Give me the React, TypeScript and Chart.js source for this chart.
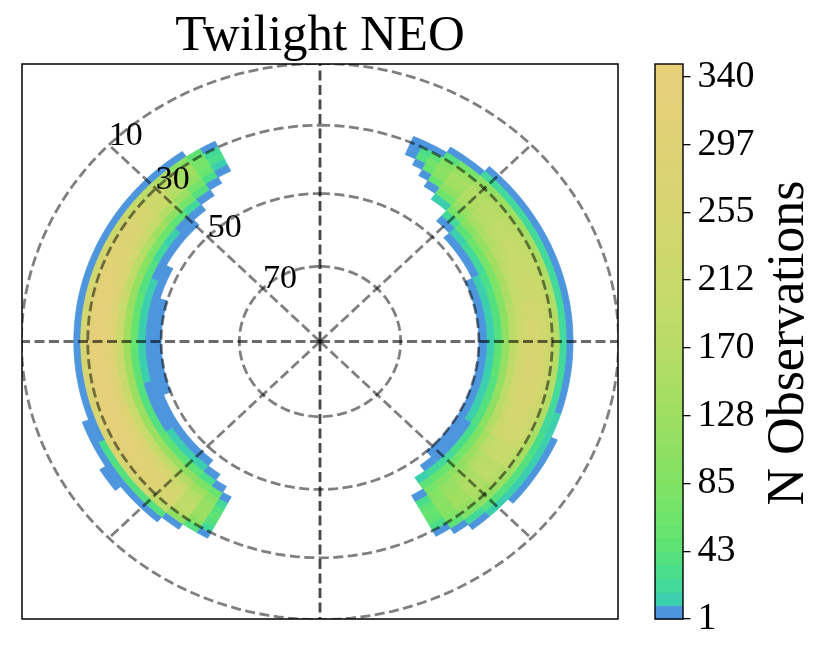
import React, { useEffect, useRef } from 'react';
import { Chart, registerables } from 'chart.js';

Chart.register(...registerables);

// sky binning: altitude bins (lower edge, deg), azimuth bin edges (deg, N = 0, E = 90)
const altBins = [22, 24, 26, 28, 30, 32, 34, 36, 38, 40, 42, 44, 46, 48];
const altStep = 2;

const eastAzEdges = [23, 26, 29, 32, 36, 42, 48, 54, 60, 66, 72, 78, 84, 90, 96, 102, 108, 114, 120, 126, 132, 138, 143, 147, 151];
const eastCounts = [
  [0, 0, 0, 4, 6, 3, 0, 0, 0, 0, 0, 0, 0, 0],
  [0, 0, 0, 5, 30, 35, 6, 0, 0, 0, 0, 0, 0, 0],
  [0, 0, 0, 8, 50, 70, 55, 5, 0, 0, 0, 0, 0, 0],
  [0, 0, 5, 40, 90, 105, 95, 55, 8, 0, 0, 0, 0, 0],
  [0, 0, 8, 70, 125, 140, 135, 110, 65, 12, 0, 0, 0, 0],
  [0, 6, 20, 105, 150, 162, 160, 145, 115, 70, 22, 5, 0, 0],
  [0, 8, 22, 120, 165, 178, 178, 165, 140, 95, 45, 12, 4, 0],
  [0, 8, 24, 130, 178, 190, 192, 180, 158, 115, 62, 20, 5, 0],
  [0, 8, 25, 140, 188, 202, 205, 195, 172, 128, 75, 26, 8, 0],
  [0, 8, 25, 148, 196, 212, 216, 208, 188, 142, 85, 32, 10, 3],
  [0, 8, 25, 155, 205, 222, 228, 220, 200, 152, 94, 36, 12, 4],
  [0, 8, 25, 160, 214, 234, 240, 232, 212, 165, 102, 40, 12, 4],
  [0, 8, 25, 165, 222, 245, 255, 248, 225, 176, 108, 42, 12, 4],
  [0, 8, 25, 168, 228, 255, 266, 260, 236, 185, 114, 44, 12, 4],
  [0, 8, 25, 168, 230, 258, 270, 264, 240, 188, 116, 44, 12, 4],
  [0, 8, 25, 166, 228, 255, 266, 262, 238, 185, 113, 42, 12, 4],
  [0, 10, 25, 160, 220, 246, 256, 250, 228, 176, 108, 40, 10, 4],
  [4, 12, 28, 150, 208, 232, 242, 236, 214, 165, 100, 37, 10, 4],
  [5, 14, 40, 140, 188, 205, 208, 200, 180, 140, 85, 30, 8, 3],
  [3, 12, 40, 125, 165, 182, 186, 178, 160, 122, 75, 27, 8, 3],
  [0, 10, 35, 105, 140, 155, 158, 150, 135, 108, 66, 25, 8, 3],
  [0, 5, 25, 85, 115, 128, 132, 126, 114, 94, 60, 22, 6, 0],
  [0, 0, 6, 50, 85, 98, 102, 98, 88, 74, 48, 12, 0, 0],
  [0, 0, 0, 5, 28, 50, 55, 46, 28, 8, 0, 0, 0, 0],
];

const westAzEdges = [208, 211, 215, 220, 226, 232, 238, 244, 250, 256, 262, 268, 274, 280, 286, 292, 298, 304, 310, 316, 321, 326, 330, 334];
const westCounts = [
  [0, 0, 0, 5, 25, 40, 45, 40, 25, 6, 0, 0, 0, 0],
  [0, 0, 0, 40, 100, 120, 125, 115, 95, 60, 8, 0, 0, 0],
  [0, 0, 8, 110, 175, 190, 185, 165, 130, 85, 30, 5, 0, 0],
  [0, 5, 40, 185, 240, 255, 245, 215, 170, 110, 45, 10, 4, 0],
  [0, 5, 40, 240, 290, 300, 290, 255, 195, 125, 50, 12, 5, 0],
  [3, 6, 40, 260, 310, 318, 305, 265, 200, 125, 45, 10, 5, 0],
  [0, 5, 30, 270, 322, 328, 315, 275, 205, 125, 40, 8, 4, 0],
  [0, 3, 8, 275, 328, 335, 320, 280, 205, 125, 40, 8, 4, 0],
  [0, 0, 5, 272, 330, 338, 325, 285, 205, 125, 40, 9, 4, 2],
  [0, 0, 5, 268, 330, 338, 328, 290, 210, 128, 45, 10, 5, 3],
  [0, 0, 5, 262, 328, 338, 330, 295, 215, 130, 50, 12, 5, 3],
  [0, 0, 5, 255, 325, 336, 330, 298, 220, 135, 55, 14, 6, 3],
  [0, 0, 5, 252, 322, 334, 328, 295, 218, 132, 52, 13, 5, 3],
  [0, 0, 5, 250, 318, 330, 322, 288, 210, 125, 48, 12, 5, 2],
  [0, 0, 5, 245, 310, 320, 310, 272, 195, 115, 42, 10, 4, 0],
  [0, 0, 6, 238, 298, 305, 292, 250, 175, 100, 35, 8, 3, 0],
  [0, 0, 6, 228, 282, 285, 270, 225, 155, 85, 25, 6, 0, 0],
  [0, 0, 6, 212, 258, 260, 242, 198, 130, 65, 15, 5, 0, 0],
  [0, 0, 5, 185, 225, 222, 205, 165, 105, 45, 8, 3, 0, 0],
  [0, 0, 5, 145, 180, 175, 158, 120, 70, 25, 5, 0, 0, 0],
  [0, 0, 4, 95, 130, 128, 110, 75, 35, 8, 0, 0, 0, 0],
  [0, 0, 0, 45, 75, 75, 60, 30, 6, 0, 0, 0, 0, 0],
  [0, 0, 0, 5, 25, 28, 12, 3, 0, 0, 0, 0, 0, 0],
];

const altRings = [10, 30, 50, 70];
const ringLabels = ['10', '30', '50', '70'];
const spokes = [0, 45, 90, 135, 180, 225, 270, 315];

const cbTicks = [1, 43.375, 85.75, 128.125, 170.5, 212.875, 255.25, 297.625, 340];
const cbLabels = ['1', '43', '85', '128', '170', '212', '255', '297', '340'];
const countMin = 1;
const countMax = 348;
const countLevels = 41;

const SERIF = "'Liberation Serif', 'Times New Roman', serif";
const LIM = 1.283;

const cmapStops: [number, number[]][] = [
  [1, [77, 150, 221]],
  [9.5, [60, 207, 174]],
  [18, [66, 217, 154]],
  [27, [74, 222, 136]],
  [43, [94, 226, 115]],
  [60, [110, 229, 106]],
  [85, [131, 226, 100]],
  [128, [160, 222, 96]],
  [170, [186, 220, 102]],
  [212, [202, 217, 107]],
  [255, [214, 213, 112]],
  [297, [223, 210, 117]],
  [348, [232, 207, 123]],
];

function lambertR(alt: number) {
  return 2 * Math.sin((((90 - alt) / 2) * Math.PI) / 180);
}

function countColor(v: number) {
  const step = (countMax - countMin) / countLevels;
  const i = Math.min(countLevels - 1, Math.max(0, Math.floor((v - countMin) / step)));
  const lv = countMin + i * step;
  let k = 0;
  while (k < cmapStops.length - 2 && lv > cmapStops[k + 1][0]) k++;
  const [v0, c0] = cmapStops[k];
  const [v1, c1] = cmapStops[k + 1];
  const t = Math.max(0, Math.min(1, (lv - v0) / (v1 - v0)));
  const c = c0.map((a, j) => Math.round(a + (c1[j] - a) * t));
  return `rgb(${c[0]},${c[1]},${c[2]})`;
}

function skyPoint(chart: any, r: number, az: number) {
  const th = ((90 - az) * Math.PI) / 180;
  return [chart.scales.x.getPixelForValue(r * Math.cos(th)), chart.scales.y.getPixelForValue(r * Math.sin(th))];
}

const skyPlugin = {
  id: 'sky',
  beforeDatasetsDraw(chart: any) {
    const { ctx, chartArea: a } = chart;
    ctx.save();
    ctx.beginPath();
    ctx.rect(a.left, a.top, a.right - a.left, a.bottom - a.top);
    ctx.clip();
    const drawSide = (edges: number[], counts: number[][]) => {
      counts.forEach((row, i) => {
        const az0 = edges[i];
        const az1 = edges[i + 1];
        const steps = Math.max(2, Math.ceil((az1 - az0) / 1.5));
        row.forEach((n, j) => {
          if (!n) return;
          const rOut = lambertR(altBins[j]);
          const rIn = lambertR(altBins[j] + altStep);
          ctx.beginPath();
          for (let s = 0; s <= steps; s++) {
            const p = skyPoint(chart, rOut, az0 + ((az1 - az0) * s) / steps);
            if (s === 0) ctx.moveTo(p[0], p[1]);
            else ctx.lineTo(p[0], p[1]);
          }
          for (let s = steps; s >= 0; s--) {
            const p = skyPoint(chart, rIn, az0 + ((az1 - az0) * s) / steps);
            ctx.lineTo(p[0], p[1]);
          }
          ctx.closePath();
          const col = countColor(n);
          ctx.fillStyle = col;
          ctx.strokeStyle = col;
          ctx.lineWidth = 0.8;
          ctx.fill();
          ctx.stroke();
        });
      });
    };
    drawSide(eastAzEdges, eastCounts);
    drawSide(westAzEdges, westCounts);
    ctx.restore();
  },
  afterDatasetsDraw(chart: any) {
    const { ctx, chartArea: a } = chart;
    ctx.save();
    ctx.beginPath();
    ctx.rect(a.left, a.top, a.right - a.left, a.bottom - a.top);
    ctx.clip();
    ctx.lineWidth = 2.8;
    ctx.setLineDash([10, 4.5]);
    altRings.forEach((alt) => {
      const r = lambertR(alt);
      ctx.beginPath();
      for (let t = 0; t <= 360; t += 2) {
        const p = skyPoint(chart, r, t);
        if (t === 0) ctx.moveTo(p[0], p[1]);
        else ctx.lineTo(p[0], p[1]);
      }
      ctx.strokeStyle = 'rgba(0,0,0,0.5)';
      ctx.stroke();
    });
    spokes.forEach((az) => {
      const p0 = skyPoint(chart, 0, az);
      const p1 = skyPoint(chart, lambertR(altRings[0]), az);
      ctx.beginPath();
      ctx.moveTo(p0[0], p0[1]);
      ctx.lineTo(p1[0], p1[1]);
      ctx.strokeStyle = az % 180 === 0 ? 'rgba(0,0,0,0.72)' : az % 90 === 0 ? 'rgba(0,0,0,0.58)' : 'rgba(0,0,0,0.5)';
      ctx.stroke();
    });
    ctx.restore();

    ctx.save();
    ctx.setLineDash([]);
    ctx.lineWidth = 1.5;
    ctx.strokeStyle = '#000';
    ctx.strokeRect(a.left, a.top, a.right - a.left, a.bottom - a.top);

    ctx.fillStyle = '#000';
    ctx.font = `34px ${SERIF}`;
    ctx.textAlign = 'left';
    ctx.textBaseline = 'alphabetic';
    altRings.forEach((alt, i) => {
      const p = skyPoint(chart, lambertR(alt), 315);
      ctx.fillText(ringLabels[i], p[0], p[1]);
    });

    ctx.font = `51px ${SERIF}`;
    ctx.textAlign = 'center';
    ctx.fillText('Twilight NEO', (a.left + a.right) / 2, a.top - 14);
    ctx.restore();
  },
};

const colorbarPlugin = {
  id: 'colorbar',
  beforeDatasetsDraw(chart: any) {
    const { ctx, chartArea: a } = chart;
    const ys = chart.scales.y;
    const step = (countMax - countMin) / countLevels;
    ctx.save();
    for (let i = 0; i < countLevels; i++) {
      const lo = countMin + i * step;
      const yTop = ys.getPixelForValue(lo + step);
      const yBot = ys.getPixelForValue(lo);
      ctx.fillStyle = countColor(lo + step / 2);
      ctx.fillRect(a.left, yTop, a.right - a.left, yBot - yTop + 0.6);
    }
    ctx.restore();
  },
  afterDraw(chart: any) {
    const { ctx, chartArea: a } = chart;
    ctx.save();
    ctx.lineWidth = 1.4;
    ctx.strokeStyle = '#000';
    ctx.strokeRect(a.left, a.top, a.right - a.left, a.bottom - a.top);
    ctx.translate(803, (a.top + a.bottom) / 2 + 1.5);
    ctx.rotate(-Math.PI / 2);
    ctx.fillStyle = '#000';
    ctx.font = `52px ${SERIF}`;
    ctx.textAlign = 'center';
    ctx.textBaseline = 'alphabetic';
    ctx.fillText('N Observations', 0, 0);
    ctx.restore();
  },
};

const App: React.FC = () => {
  const skyRef = useRef<HTMLCanvasElement>(null);
  const barRef = useRef<HTMLCanvasElement>(null);

  useEffect(() => {
    if (!skyRef.current || !barRef.current) return;

    const cells: { x: number; y: number; n: number }[] = [];
    const collect = (edges: number[], counts: number[][]) => {
      counts.forEach((row, i) =>
        row.forEach((n, j) => {
          if (!n) return;
          const r = lambertR(altBins[j] + altStep / 2);
          const th = ((90 - (edges[i] + edges[i + 1]) / 2) * Math.PI) / 180;
          cells.push({ x: r * Math.cos(th), y: r * Math.sin(th), n });
        })
      );
    };
    collect(eastAzEdges, eastCounts);
    collect(westAzEdges, westCounts);

    const sky = new Chart(skyRef.current, {
      type: 'scatter',
      data: { datasets: [{ label: 'N Observations', data: cells, pointRadius: 0 }] },
      options: {
        animation: false,
        responsive: false,
        events: [],
        layout: { padding: { left: 22, top: 64, right: 213, bottom: 39 } },
        plugins: { legend: { display: false }, tooltip: { enabled: false } },
        scales: {
          x: { type: 'linear', min: -LIM, max: LIM, display: false },
          y: { type: 'linear', min: -LIM, max: LIM, display: false },
        },
      },
      plugins: [skyPlugin],
    });

    const bar = new Chart(barRef.current, {
      type: 'scatter',
      data: { datasets: [] },
      options: {
        animation: false,
        responsive: false,
        events: [],
        layout: { padding: { left: 655, top: 64, right: 8, bottom: 39 } },
        plugins: { legend: { display: false }, tooltip: { enabled: false } },
        scales: {
          x: { display: false },
          y: {
            type: 'linear',
            position: 'right',
            min: countMin,
            max: countMax,
            afterBuildTicks: (scale: any) => {
              scale.ticks = cbTicks.map((v) => ({ value: v }));
            },
            afterFit: (scale: any) => {
              scale.width = 140;
            },
            ticks: {
              autoSkip: false,
              maxRotation: 0,
              padding: 7,
              color: '#000',
              font: { family: SERIF, size: 38 },
              callback: (_v: any, i: number) => cbLabels[i],
            },
            grid: { drawOnChartArea: false, tickLength: 7.5, color: '#000', lineWidth: 1.3 },
            border: { display: false },
          },
        },
      },
      plugins: [colorbarPlugin],
    });

    return () => {
      sky.destroy();
      bar.destroy();
    };
  }, []);

  return (
    <div style={{ position: 'absolute', left: 0, top: 0, width: 831, height: 658, background: '#fff' }}>
      <canvas ref={skyRef} width={831} height={658} style={{ position: 'absolute', left: 0, top: 0 }} />
      <canvas ref={barRef} width={831} height={658} style={{ position: 'absolute', left: 0, top: 0 }} />
    </div>
  );
};

export default App;
